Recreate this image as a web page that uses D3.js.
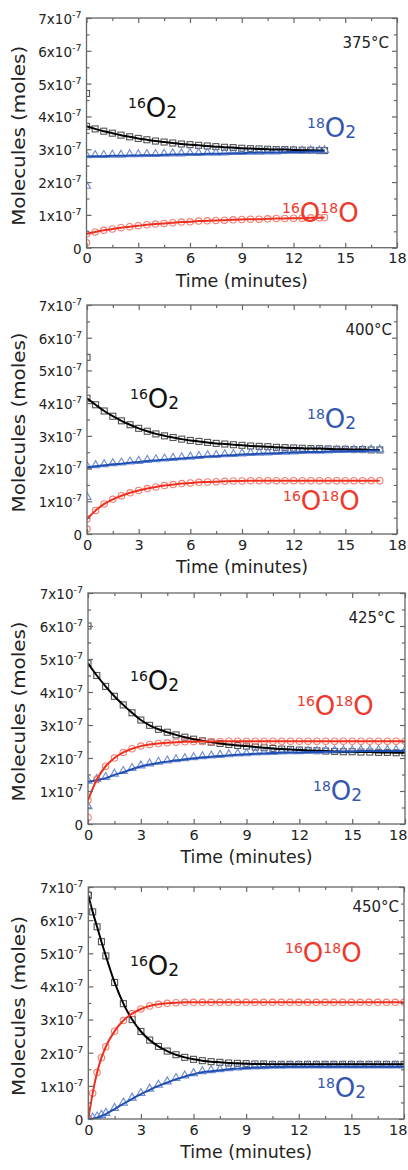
<!DOCTYPE html>
<html>
<head>
<meta charset="utf-8">
<script src="https://cdn.jsdelivr.net/npm/d3@7"></script>
<style>
  body { margin: 0; background: #fff; }
  svg { display: block; }
</style>
</head>
<body>
<script>
const width = 408
const height = 1170

// ---- data (moles, in units of 1e-7) ----
const temps = ['375°C', '400°C', '425°C', '450°C']
const xTicks = [0, 3, 6, 9, 12, 15, 18]
const xMinor = [1.5, 4.5, 7.5, 10.5, 13.5, 16.5]
const yTicks = [0, 1, 2, 3, 4, 5, 6, 7]
const yMinor = [0.5, 1.5, 2.5, 3.5, 4.5, 5.5, 6.5]

const time375 = [0,0.5,1,1.5,2,2.5,3,3.5,4,4.5,5,5.5,6,6.5,7,7.5,8,8.5,9,9.5,10,10.5,11,11.5,12,12.5,13,13.5,13.8]
const o16_375 = [3.70,3.62,3.55,3.49,3.43,3.38,3.33,3.29,3.25,3.22,3.19,3.16,3.14,3.12,3.10,3.08,3.06,3.05,3.03,3.02,3.01,3.00,2.99,2.99,2.98,2.97,2.97,2.96,2.96]
const o18_375 = [2.78,2.79,2.79,2.80,2.80,2.81,2.81,2.82,2.82,2.83,2.84,2.84,2.85,2.85,2.86,2.86,2.87,2.88,2.88,2.89,2.89,2.90,2.90,2.91,2.92,2.92,2.93,2.93,2.94]
const mix375 = [0.42,0.48,0.53,0.57,0.61,0.64,0.67,0.70,0.72,0.74,0.76,0.78,0.79,0.81,0.82,0.83,0.84,0.85,0.86,0.87,0.87,0.88,0.89,0.89,0.90,0.90,0.91,0.91,0.92]
const spike375 = [4.7, 1.85, 0.15]

const time400 = [0,0.5,1,1.5,2,2.5,3,3.5,4,4.5,5,5.5,6,6.5,7,7.5,8,8.5,9,9.5,10,10.5,11,11.5,12,12.5,13,13.5,14,14.5,15,15.5,16,16.5,17]
const o16_400 = [4.15,3.95,3.76,3.60,3.46,3.34,3.23,3.14,3.06,3.00,2.95,2.90,2.86,2.83,2.80,2.77,2.75,2.73,2.71,2.69,2.68,2.67,2.65,2.64,2.63,2.62,2.61,2.61,2.60,2.59,2.59,2.58,2.58,2.57,2.57]
const o18_400 = [2.04,2.07,2.10,2.13,2.15,2.18,2.20,2.23,2.25,2.27,2.29,2.31,2.33,2.35,2.37,2.38,2.40,2.41,2.43,2.44,2.45,2.46,2.47,2.48,2.49,2.50,2.51,2.51,2.52,2.53,2.53,2.54,2.54,2.55,2.55]
const mix400 = [0.46,0.72,0.92,1.06,1.17,1.26,1.33,1.39,1.44,1.48,1.51,1.54,1.56,1.58,1.59,1.60,1.61,1.62,1.62,1.63,1.63,1.63,1.63,1.63,1.63,1.63,1.63,1.63,1.63,1.63,1.63,1.63,1.63,1.63,1.63]
const spike400 = [5.4, 1.1, 0.15]

const time425 = [0,0.5,1,1.5,2,2.5,3,3.5,4,4.5,5,5.5,6,6.5,7,7.5,8,8.5,9,9.5,10,10.5,11,11.5,12,12.5,13,13.5,14,14.5,15,15.5,16,16.5,17,17.5,18]
const o16_425 = [4.87,4.50,4.17,3.87,3.61,3.37,3.15,2.99,2.87,2.78,2.70,2.63,2.57,2.52,2.48,2.44,2.41,2.38,2.36,2.33,2.31,2.29,2.27,2.26,2.24,2.23,2.22,2.21,2.20,2.19,2.19,2.18,2.18,2.17,2.17,2.16,2.16]
const o18_425 = [1.28,1.33,1.39,1.49,1.57,1.66,1.74,1.80,1.85,1.89,1.93,1.96,1.99,2.02,2.04,2.06,2.08,2.10,2.11,2.13,2.14,2.15,2.16,2.17,2.17,2.18,2.18,2.19,2.19,2.20,2.20,2.21,2.21,2.21,2.21,2.21,2.21]
const mix425 = [0.72,1.35,1.75,2.00,2.17,2.28,2.36,2.41,2.44,2.46,2.48,2.49,2.50,2.50,2.50,2.50,2.51,2.51,2.51,2.51,2.51,2.51,2.51,2.51,2.51,2.51,2.51,2.51,2.51,2.51,2.51,2.51,2.51,2.51,2.51,2.51,2.51]
const spike425 = [6.0, 0.5, 0.2]

const time450 = [0,0.25,0.5,0.75,1,1.5,2,2.5,3,3.5,4,4.5,5,5.5,6,6.5,7,7.5,8,8.5,9,9.5,10,10.5,11,11.5,12,12.5,13,13.5,14,14.5,15,15.5,16,16.5,17,17.5,18]
const o16_450 = [6.75,6.25,5.80,5.35,4.92,4.12,3.48,3.00,2.64,2.38,2.19,2.05,1.94,1.86,1.80,1.76,1.73,1.71,1.69,1.68,1.67,1.66,1.66,1.65,1.65,1.65,1.65,1.65,1.65,1.65,1.65,1.65,1.65,1.65,1.65,1.65,1.65,1.65,1.65]
const o18_450 = [0,0.01,0.04,0.09,0.15,0.30,0.46,0.61,0.75,0.88,1.00,1.10,1.20,1.28,1.35,1.41,1.44,1.47,1.50,1.52,1.54,1.55,1.56,1.57,1.57,1.58,1.58,1.58,1.58,1.58,1.58,1.58,1.58,1.58,1.58,1.58,1.58,1.58,1.58]
const mix450 = [0,0.78,1.40,1.85,2.18,2.65,2.97,3.18,3.32,3.41,3.46,3.49,3.51,3.52,3.52,3.52,3.52,3.52,3.52,3.52,3.52,3.52,3.52,3.52,3.52,3.52,3.52,3.52,3.52,3.52,3.52,3.52,3.52,3.52,3.52,3.52,3.52,3.52,3.52]
const spike450 = [6.75, 0, 0]

const o16Label = [['16', 'sup'], ['O', 'main'], ['2', 'sub']]
const o18Label = [['18', 'sup'], ['O', 'main'], ['2', 'sub']]
const mixLabel = [['16', 'sup'], ['O', 'main'], ['18', 'sup'], ['O', 'main']]

// ---- layout ----
const panels = [
  { temp: temps[0], time: time375, o16: o16_375, o18: o18_375, mix: mix375, spike: spike375,
    left: 86.5, right: 397, top: 18, bottom: 247.7, tempDx: 8, tempDy: 30,
    lab16: [128, 117], lab18: [307, 137], labMix: [282, 222] },
  { temp: temps[1], time: time400, o16: o16_400, o18: o18_400, mix: mix400, spike: spike400,
    left: 87, right: 397, top: 305, bottom: 534, tempDx: 5, tempDy: 30,
    lab16: [130, 408], lab18: [307, 428], labMix: [283, 510] },
  { temp: temps[2], time: time425, o16: o16_425, o18: o18_425, mix: mix425, spike: spike425,
    left: 88, right: 405, top: 593, bottom: 824, tempDx: 10, tempDy: 30,
    lab16: [130, 690], lab18: [313, 800], labMix: [297, 715] },
  { temp: temps[3], time: time450, o16: o16_450, o18: o18_450, mix: mix450, spike: spike450,
    left: 88.3, right: 404, top: 887, bottom: 1119, tempDx: 5, tempDy: 25,
    lab16: [130, 975], lab18: [317, 1097], labMix: [285, 962] }
]

const font = 'DejaVu Sans, Verdana, sans-serif'
const frameColor = '#666'
const colors = {
  o16: { line: '#000', mark: '#555', text: '#111' },
  o18: { line: '#1f4fb3', mark: '#6f8bd2', text: '#3557b0' },
  mix: { line: '#f0301f', mark: '#f47f74', text: '#ee3a2d' }
}

let svg = d3.select('body').append('svg')
            .attr('width', width)
            .attr('height', height)

let drawSpecies = (g, pos, parts, color) => {
  let text = g.append('text')
              .attr('x', pos[0])
              .attr('y', pos[1])
              .style('fill', color)
              .style('font-family', font)
  let shift = 0
  parts.forEach(([s, role]) => {
    let target = role == 'sup' ? -9 : role == 'sub' ? 1 : 0
    let size = role == 'sup' ? 14 : role == 'sub' ? 17 : 26
    text.append('tspan')
        .attr('dy', target - shift)
        .style('font-size', size + 'px')
        .text(s)
    shift = target
  })
}

let drawPanel = (p, i) => {
  let g = svg.append('g').attr('id', 'panel' + i)

  let xScale = d3.scaleLinear()
                 .domain([0, 18])
                 .range([p.left, p.right])

  let yScale = d3.scaleLinear()
                 .domain([0, 7])
                 .range([p.bottom, p.top])

  g.append('clipPath')
   .attr('id', 'clip' + i)
   .append('rect')
   .attr('x', p.left)
   .attr('y', p.top)
   .attr('width', p.right - p.left)
   .attr('height', p.bottom - p.top)

  let plot = g.append('g').attr('clip-path', `url(#clip${i})`)

  let series = [
    { key: 'o16', values: p.o16, shape: 'square' },
    { key: 'o18', values: p.o18, shape: 'triangle' },
    { key: 'mix', values: p.mix, shape: 'circle' }
  ]

  // markers first, fit lines on top
  series.forEach((s, k) => {
    let pts = p.time.map((t, j) => [t, s.values[j]])
    pts.push([0, p.spike[k]])
    let c = colors[s.key]
    let marks = plot.append('g')
    if (s.shape == 'square') {
      marks.selectAll('rect').data(pts).enter().append('rect')
           .attr('x', d => xScale(d[0]) - 3)
           .attr('y', d => yScale(d[1]) - 3)
           .attr('width', 6)
           .attr('height', 6)
           .style('fill', 'none')
           .style('stroke', c.mark)
           .style('stroke-width', 1.1)
    } else if (s.shape == 'triangle') {
      marks.selectAll('path').data(pts).enter().append('path')
           .attr('d', d3.symbol(d3.symbolTriangle, 28))
           .attr('transform', d => `translate(${xScale(d[0])},${yScale(d[1]) - 1})`)
           .style('fill', 'none')
           .style('stroke', c.mark)
           .style('stroke-width', 1.1)
    } else {
      marks.selectAll('circle').data(pts).enter().append('circle')
           .attr('cx', d => xScale(d[0]))
           .attr('cy', d => yScale(d[1]))
           .attr('r', 3.2)
           .style('fill', 'none')
           .style('stroke', c.mark)
           .style('stroke-width', 1.1)
    }
  })

  let lineGenerator = d3.line()
                        .x(d => xScale(d[0]))
                        .y(d => yScale(d[1]))
                        .curve(d3.curveMonotoneX)

  series.forEach(s => {
    plot.append('path')
        .datum(p.time.map((t, j) => [t, s.values[j]]))
        .attr('d', lineGenerator)
        .style('fill', 'none')
        .style('stroke', colors[s.key].line)
        .style('stroke-width', 2)
  })

  // frame
  g.append('rect')
   .attr('x', p.left)
   .attr('y', p.top)
   .attr('width', p.right - p.left)
   .attr('height', p.bottom - p.top)
   .style('fill', 'none')
   .style('stroke', frameColor)
   .style('stroke-width', 1.3)

  let styleAxis = sel => {
    sel.select('.domain').remove()
    sel.selectAll('.tick line').attr('stroke', frameColor).attr('stroke-width', 1.2)
    sel.selectAll('.tick text')
       .style('font-family', font)
       .style('fill', '#222')
  }

  // bottom
  g.append('g')
   .attr('transform', `translate(0,${p.bottom})`)
   .call(d3.axisBottom(xScale).tickValues(xTicks).tickSize(-5).tickSizeOuter(0).tickPadding(5.5))
   .call(styleAxis)
   .selectAll('.tick text')
   .style('font-size', '14.5px')
   .each(function (d) {
     // keep the last label inside the page
     if (xScale(d) + 9 > width) {
       d3.select(this).attr('text-anchor', 'end').attr('x', width - 1 - xScale(d))
     }
   })
  g.append('g')
   .attr('transform', `translate(0,${p.bottom})`)
   .call(d3.axisBottom(xScale).tickValues(xMinor).tickSize(-3).tickFormat(''))
   .call(styleAxis)

  // top
  g.append('g')
   .attr('transform', `translate(0,${p.top})`)
   .call(d3.axisTop(xScale).tickValues(xTicks).tickSize(-5).tickFormat(''))
   .call(styleAxis)
  g.append('g')
   .attr('transform', `translate(0,${p.top})`)
   .call(d3.axisTop(xScale).tickValues(xMinor).tickSize(-3).tickFormat(''))
   .call(styleAxis)

  // left
  let yAxis = g.append('g')
               .attr('transform', `translate(${p.left},0)`)
               .call(d3.axisLeft(yScale).tickValues(yTicks).tickSize(-5).tickPadding(5)
                       .tickFormat(d => d == 0 ? '0' : d + 'x10'))
               .call(styleAxis)
  yAxis.selectAll('.tick text')
       .attr('dy', '0.4em')
       .style('font-size', '13.5px')
       .each(function (d) {
         if (d > 0) {
           d3.select(this).append('tspan')
             .attr('dy', -6)
             .style('font-size', '9.5px')
             .text('-7')
         }
       })
  g.append('g')
   .attr('transform', `translate(${p.left},0)`)
   .call(d3.axisLeft(yScale).tickValues(yMinor).tickSize(-3).tickFormat(''))
   .call(styleAxis)

  // right
  g.append('g')
   .attr('transform', `translate(${p.right},0)`)
   .call(d3.axisRight(yScale).tickValues(yTicks).tickSize(-5).tickFormat(''))
   .call(styleAxis)
  g.append('g')
   .attr('transform', `translate(${p.right},0)`)
   .call(d3.axisRight(yScale).tickValues(yMinor).tickSize(-3).tickFormat(''))
   .call(styleAxis)

  // axis titles
  g.append('text')
   .text('Time (minutes)')
   .attr('x', (p.left + p.right) / 2)
   .attr('y', p.bottom + 39)
   .attr('text-anchor', 'middle')
   .attr('textLength', 132)
   .attr('lengthAdjust', 'spacingAndGlyphs')
   .style('font-family', font)
   .style('font-size', '17.5px')
   .style('fill', '#222')

  g.append('text')
   .text('Molecules (moles)')
   .attr('transform', `translate(25,${(p.top + p.bottom) / 2 + 3})rotate(-90)`)
   .attr('text-anchor', 'middle')
   .attr('textLength', 180)
   .attr('lengthAdjust', 'spacingAndGlyphs')
   .style('font-family', font)
   .style('font-size', '18px')
   .style('fill', '#222')

  // temperature
  g.append('text')
   .text(p.temp)
   .attr('x', p.right - p.tempDx)
   .attr('y', p.top + p.tempDy)
   .attr('text-anchor', 'end')
   .style('font-family', font)
   .style('font-size', '15px')
   .style('fill', '#222')

  drawSpecies(g, p.lab16, o16Label, colors.o16.text)
  drawSpecies(g, p.lab18, o18Label, colors.o18.text)
  drawSpecies(g, p.labMix, mixLabel, colors.mix.text)
}

panels.forEach(drawPanel)
</script>
</body>
</html>
